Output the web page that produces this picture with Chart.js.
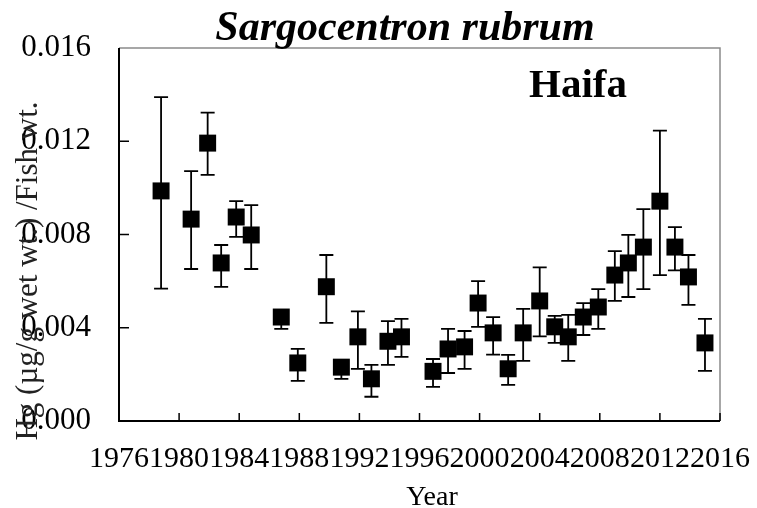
<!DOCTYPE html>
<html>
<head>
<meta charset="utf-8">
<script src="https://cdn.jsdelivr.net/npm/chart.js@4/dist/chart.umd.min.js"></script>
<style>
  html, body { margin: 0; padding: 0; background: #fff; }
  #wrap { width: 757px; height: 508px; }
</style>
</head>
<body>
<div id="wrap"><canvas id="hgChart"></canvas></div>
<script>
// sampling years (as placed on the original plot)
const years = [1978.8, 1980.8, 1981.9, 1982.8, 1983.8, 1984.8, 1986.8, 1987.9,
  1989.8, 1990.8, 1991.9, 1992.8, 1993.9, 1994.8, 1996.9, 1997.9, 1999.0,
  1999.9, 2000.9, 2001.9, 2002.9, 2004.0, 2005.0, 2005.9, 2006.9, 2007.9,
  2009.0, 2009.9, 2010.9, 2012.0, 2013.0, 2013.9, 2015.0];
// mean Hg / fish wt.
const hgMean = [0.00987, 0.00866, 0.01192, 0.00678, 0.00875, 0.00798, 0.00446, 0.00249,
  0.00576, 0.00231, 0.00361, 0.00181, 0.00342, 0.00361, 0.00213, 0.00309, 0.00318,
  0.00506, 0.00378, 0.00224, 0.00378, 0.00515, 0.00404, 0.00361, 0.00446, 0.00489,
  0.00626, 0.00678, 0.00746, 0.00943, 0.00746, 0.00618, 0.00335];
// error bar ends
const hgLow = [0.00568, 0.00652, 0.01056, 0.00575, 0.0079, 0.00652, 0.00395, 0.00172,
  0.00421, 0.00181, 0.00224, 0.00104, 0.00241, 0.00275, 0.00146, 0.00206, 0.00224,
  0.00404, 0.00285, 0.00155, 0.00258, 0.00363, 0.00335, 0.00258, 0.00369, 0.00395,
  0.00515, 0.00532, 0.00566, 0.00626, 0.00646, 0.00498, 0.00215];
const hgHigh = [0.01389, 0.01072, 0.01323, 0.00755, 0.00943, 0.00926, 0.0046, 0.00309,
  0.00712, 0.0025, 0.0047, 0.00241, 0.00428, 0.00438, 0.00266, 0.00395, 0.00386,
  0.006, 0.00446, 0.00284, 0.00481, 0.00659, 0.00451, 0.00455, 0.00506, 0.00566,
  0.00729, 0.00798, 0.00909, 0.01246, 0.00832, 0.00712, 0.00438];
// axis ticks
const xTicks = [1976, 1980, 1984, 1988, 1992, 1996, 2000, 2004, 2008, 2012, 2016];
const yTicks = [0, 0.004, 0.008, 0.012, 0.016];

const serif = '"Liberation Serif", "Times New Roman", serif';

// error bars under the squares
const errorBars = {
  id: "errorBars",
  beforeDatasetsDraw: function (chart) {
    const ctx = chart.ctx;
    const xs = chart.scales.x;
    const ys = chart.scales.y;
    ctx.save();
    ctx.strokeStyle = "#000";
    ctx.lineWidth = 1.8;
    years.forEach((yr, i) => {
      const px = xs.getPixelForValue(yr);
      const top = ys.getPixelForValue(hgHigh[i]);
      const bot = ys.getPixelForValue(hgLow[i]);
      ctx.beginPath();
      ctx.moveTo(px, top);
      ctx.lineTo(px, bot);
      ctx.moveTo(px - 7, top);
      ctx.lineTo(px + 7, top);
      ctx.moveTo(px - 7, bot);
      ctx.lineTo(px + 7, bot);
      ctx.stroke();
    });
    ctx.restore();
  },
};

// frame, inner ticks and the loose texts
const decor = {
  id: "decor",
  afterDraw: function (chart) {
    const ctx = chart.ctx;
    const a = chart.chartArea;
    const xs = chart.scales.x;
    const ys = chart.scales.y;
    ctx.save();
    // top and right border in grey
    ctx.strokeStyle = "#8a8a8a";
    ctx.lineWidth = 1.5;
    ctx.beginPath();
    ctx.moveTo(a.left, a.top);
    ctx.lineTo(a.right, a.top);
    ctx.lineTo(a.right, a.bottom);
    ctx.stroke();
    // left and bottom axis in black
    ctx.strokeStyle = "#000";
    ctx.lineWidth = 2;
    ctx.beginPath();
    ctx.moveTo(a.left, a.top);
    ctx.lineTo(a.left, a.bottom);
    ctx.lineTo(a.right, a.bottom);
    ctx.stroke();
    ctx.lineWidth = 1.5;
    ctx.beginPath();
    yTicks.slice(1, -1).forEach((v) => {
      const py = ys.getPixelForValue(v);
      ctx.moveTo(a.left, py);
      ctx.lineTo(a.left + 10, py);
    });
    xTicks.slice(1).forEach((v) => {
      const px = xs.getPixelForValue(v);
      ctx.moveTo(px, a.bottom);
      ctx.lineTo(px, a.bottom - 8);
    });
    ctx.stroke();

    ctx.fillStyle = "#000";
    ctx.textAlign = "center";
    ctx.textBaseline = "alphabetic";
    ctx.font = "italic bold 42px " + serif;
    ctx.fillText("Sargocentron rubrum", 405, 40);
    ctx.font = "bold 41px " + serif;
    ctx.fillText("Haifa", 578, 97);
    ctx.font = "28px " + serif;
    ctx.fillText("Year", 432, 505);
    // y title, overlapping the tick labels like the original
    ctx.translate(37, 271);
    ctx.rotate(-Math.PI / 2);
    ctx.fillStyle = "#222";
    ctx.font = "31px " + serif;
    ctx.fillText("Hg (\u00b5g/g wet wt.) /Fish wt.", 0, 0);
    ctx.restore();
  },
};

const points = years.map((yr, i) => ({ x: yr, y: hgMean[i] }));

new Chart(document.getElementById("hgChart"), {
  type: "scatter",
  data: {
    datasets: [
      {
        data: points,
        pointStyle: "rect",
        pointRadius: 12,
        pointHoverRadius: 12,
        backgroundColor: "#000",
        borderColor: "#000",
        borderWidth: 0,
      },
    ],
  },
  options: {
    responsive: true,
    maintainAspectRatio: false,
    animation: false,
    layout: { padding: { top: 48, right: 37, left: 0, bottom: 0 } },
    plugins: {
      legend: { display: false },
      tooltip: { enabled: false },
      title: { display: false },
    },
    scales: {
      x: {
        type: "linear",
        min: 1976,
        max: 2016,
        afterFit: function (scale) {
          // keep the plot box fixed, labels may hang over the edges
          scale.height = 87;
          scale.paddingLeft = 0;
          scale.paddingRight = 0;
        },
        afterBuildTicks: function (scale) {
          scale.ticks = xTicks.map((v) => ({ value: v }));
        },
        grid: { display: false, drawTicks: false },
        border: { display: false },
        ticks: {
          autoSkip: false,
          maxRotation: 0,
          padding: 20,
          color: "#000",
          font: { family: serif, size: 30 },
          callback: function (v) {
            return String(v);
          },
        },
      },
      y: {
        min: 0,
        max: 0.016,
        afterFit: function (scale) {
          scale.width = 119;
          scale.paddingTop = 0;
          scale.paddingBottom = 0;
        },
        afterBuildTicks: function (scale) {
          scale.ticks = yTicks.map((v) => ({ value: v }));
        },
        grid: { display: false, drawTicks: false },
        border: { display: false },
        ticks: {
          padding: 28,
          color: "#000",
          font: { family: serif, size: 31 },
          callback: function (v) {
            return v.toFixed(3);
          },
        },
      },
    },
  },
  plugins: [errorBars, decor],
});
</script>
</body>
</html>
